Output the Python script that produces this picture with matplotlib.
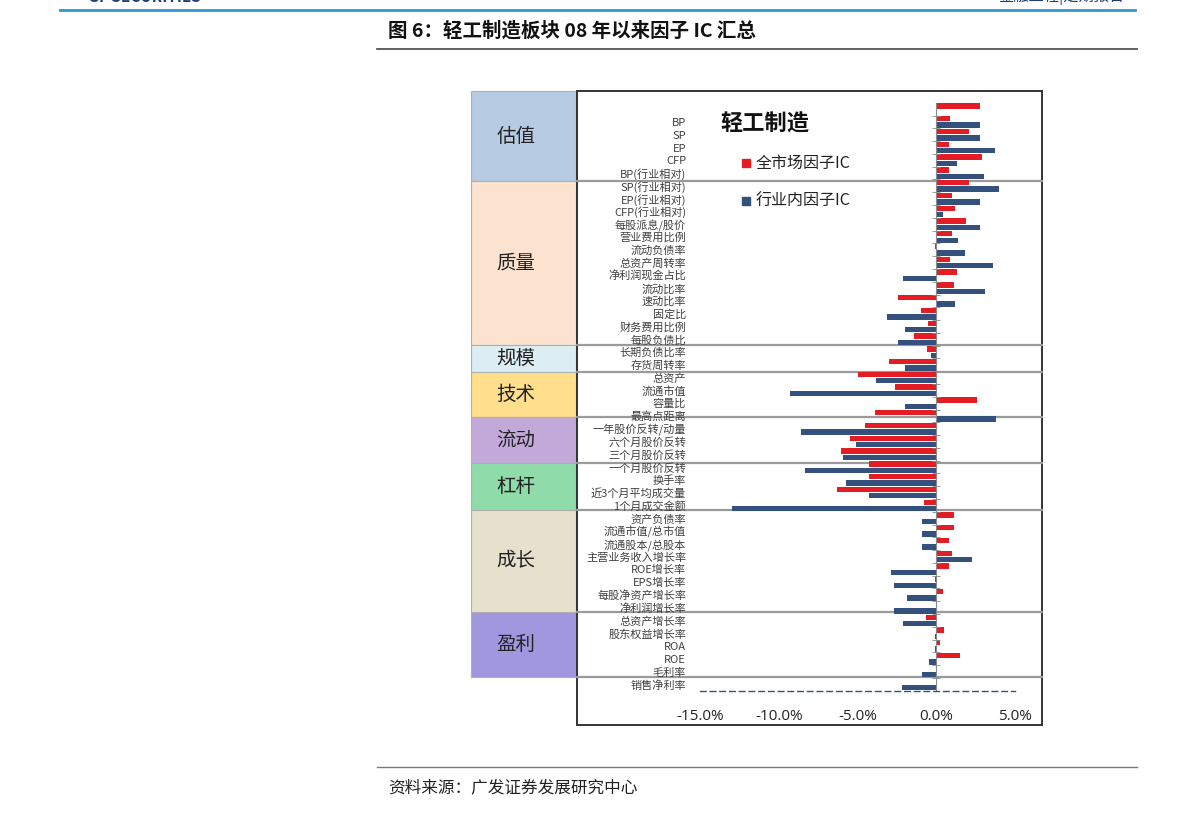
import matplotlib
matplotlib.use("Agg")
import matplotlib.pyplot as plt
import matplotlib.ticker as ticker
import numpy as np
from matplotlib.patches import Rectangle

plt.rcParams["font.family"] = ["Noto Sans CJK SC", "DejaVu Sans"]

# ---------------------------------------------------------------------------
# Data (IC values in %)
# ---------------------------------------------------------------------------
factors = [
    "", "BP", "SP", "EP", "CFP", "BP(行业相对)", "SP(行业相对)", "EP(行业相对)",
    "CFP(行业相对)", "每股派息/股价", "营业费用比例", "流动负债率", "总资产周转率",
    "净利润现金占比", "流动比率", "速动比率", "固定比", "财务费用比例", "每股负债比",
    "长期负债比率", "存货周转率", "总资产", "流通市值", "容量比", "最高点距离",
    "一年股价反转/动量", "六个月股价反转", "三个月股价反转", "一个月股价反转",
    "换手率", "近3个月平均成交量", "1个月成交金额", "资产负债率", "流通市值/总市值",
    "流通股本/总股本", "主营业务收入增长率", "ROE增长率", "EPS增长率",
    "每股净资产增长率", "净利润增长率", "总资产增长率", "股东权益增长率",
    "ROA", "ROE", "毛利率", "销售净利率",
]
ic_market = [
    2.8, 0.9, 2.1, 0.8, 2.9, 0.8, 2.1, 1.0,
    1.2, 1.9, 1.0, -0.05, 0.9,
    1.3, 1.1, -2.4, -1.0, -0.55, -1.4,
    -0.6, -3.0, -5.0, -2.6, 2.6, -3.9,
    -4.5, -5.45, -6.05, -4.3,
    -4.3, -6.3, -0.8, 1.1, 1.1,
    0.8, 1.0, 0.8, -0.1,
    0.45, 0.0, -0.65, 0.5,
    0.25, 1.5, 0.0, 0.0,
]
ic_industry = [
    0.0, 2.8, 2.8, 3.7, 1.3, 3.0, 4.0, 2.8,
    0.4, 2.8, 1.4, 1.8, 3.6,
    -2.1, 3.1, 1.2, -3.1, -2.0, -2.4,
    -0.35, -2.0, -3.8, -9.3, -2.0, 3.8,
    -8.6, -5.1, -5.9, -8.35,
    -5.7, -4.25, -13.0, -0.9, -0.9,
    -0.9, 2.3, -2.9, -2.7,
    -1.85, -2.7, -2.1, -0.1,
    -0.05, -0.45, -0.9, -2.2,
]

groups = ["估值", "质量", "规模", "技术", "流动", "杠杆", "成长", "盈利"]
group_colors = ["#B7CBE3", "#FCE3CF", "#DCEDF4", "#FFDF8C",
                "#C3A9D9", "#8FDBA9", "#E7E0CD", "#A097DE"]
# group edges in pixels (top of chart to bottom of last box)
group_edges = [91, 181, 345, 372, 417, 463, 510, 612, 677]

RED = "#E31D23"
BLUE = "#34507C"

W, H = 1191, 817
fig = plt.figure(figsize=(W / 100, H / 100), dpi=100)

# background overlay in pixel coordinates
bg = fig.add_axes([0, 0, 1, 1], zorder=0)
bg.set_xlim(0, W)
bg.set_ylim(H, 0)
bg.axis("off")

# page header (cut off at the top edge, as in the scanned page)
bg.plot([60, 1135], [10, 10], color="#2E96D2", lw=2)
bg.text(88, 5, "GF SECURITIES", color="#1F3E7A", fontsize=11, weight="bold",
        va="bottom", ha="left")
bg.text(1125, 5, "金融工程|定期报告", color="#1F3E7A", fontsize=11,
        va="bottom", ha="right")
bg.text(388, 31, "图 6：轻工制造板块 08 年以来因子 IC 汇总", fontsize=14,
        weight="bold", va="center", ha="left", color="#111111")
bg.plot([377, 1137], [49, 49], color="#555555", lw=1.3)
bg.plot([377, 1137], [767, 767], color="#777777", lw=1.0)
bg.text(388, 788, "资料来源：广发证券发展研究中心", fontsize=12,
        va="center", ha="left", color="#222222")

# group boxes on the left
for i, name in enumerate(groups):
    y0, y1 = group_edges[i], group_edges[i + 1]
    bg.add_patch(Rectangle((471, y0), 105, y1 - y0, facecolor=group_colors[i],
                           edgecolor="#B0B0B0", lw=0.8))
    bg.text(516, (y0 + y1) / 2, name, fontsize=14, ha="center", va="center",
            color="#222222")

# separators across the chart
for y in group_edges[1:]:
    bg.plot([577, 1042], [y, y], color="#9A9A9A", lw=1.6)

# chart frame
bg.add_patch(Rectangle((577, 91), 465, 634, facecolor="none",
                       edgecolor="#333333", lw=1.4))

# chart title and legend
bg.text(720, 124, "轻工制造", fontsize=16, weight="bold", va="center",
        ha="left", color="#111111")
bg.add_patch(Rectangle((742, 159), 8, 8, color=RED))
bg.text(756, 163, "全市场因子IC", fontsize=11.5, va="center", ha="left",
        color="#222222")
bg.add_patch(Rectangle((742, 197), 8, 8, color=BLUE))
bg.text(756, 201, "行业内因子IC", fontsize=11.5, va="center", ha="left",
        color="#222222")

# bar axes
left, right, top, bottom = 700, 1015, 102.8, 690.7
ax = fig.add_axes([left / W, 1 - bottom / H, (right - left) / W, (bottom - top) / H],
                  zorder=1)
ax.patch.set_alpha(0)

y = np.arange(len(factors))
ax.barh(y - 0.25, ic_market, height=0.42, color=RED)
ax.barh(y + 0.25, ic_industry, height=0.42, color=BLUE)

ax.set_xlim(-15, 5)
ax.set_ylim(len(factors) - 0.5, -0.5)
ax.axvline(0, color="#8A8A8A", lw=0.8)
ax.hlines(np.arange(len(factors)) + 0.5, -0.25, 0.25, color="#8A8A8A", lw=0.6)

ax.set_yticks(y)
ax.set_yticklabels(factors, fontsize=8, color="#404040")
ax.tick_params(axis="y", length=0, pad=10)

ax.set_xticks([-15, -10, -5, 0, 5])
ax.xaxis.set_major_formatter(ticker.FuncFormatter(lambda v, p: f"{v:.1f}%"))
ax.tick_params(axis="x", length=0, pad=13, labelsize=11)
for lab in ax.get_xticklabels():
    lab.set_family(["Open Sans", "DejaVu Sans"])
    lab.set_color("#222222")

for s in ["top", "right", "left"]:
    ax.spines[s].set_visible(False)
ax.spines["bottom"].set_linestyle((0, (4, 3)))
ax.spines["bottom"].set_color(BLUE)
ax.spines["bottom"].set_linewidth(1.0)

fig.savefig("out.png", dpi=100)
